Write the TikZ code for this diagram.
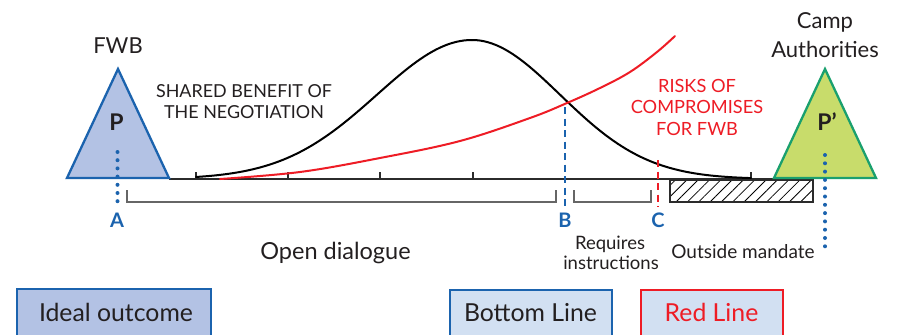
\documentclass[tikz,border=0pt]{standalone}
\usepackage{fontspec}
\setmainfont{Lato}
\usetikzlibrary{patterns.meta}
\definecolor{fwbblue}{HTML}{1B63AE}
\definecolor{fwbfill}{HTML}{B3C2E4}
\definecolor{campgreen}{HTML}{1AA06E}
\definecolor{campfill}{HTML}{C8DC6B}
\definecolor{riskred}{HTML}{EE1C25}
\definecolor{lightbox}{HTML}{D2E0F2}
\definecolor{axisgray}{HTML}{2B2B2B}
\definecolor{brackgray}{HTML}{666666}
\definecolor{txt}{HTML}{231F20}
\tikzset{
  lbl/.style={anchor=base, inner sep=0pt, text=txt},
  dotfill/.style={fill=fwbblue},
  dashline/.style={line width=2.4pt, dash pattern=on 7pt off 4.5pt},
  bracket/.style={brackgray, line width=1.3pt},
  legendbox/.style={line width=2.3pt},
  curve/.style={line width=2pt, line join=round, line cap=round}
}
\begin{document}
\begin{tikzpicture}[x=1pt,y=-1pt]
\clip (0,0) rectangle (906,335);
\fill[white] (0,0) rectangle (906,335);
% axis
\coordinate (axL) at (169,179);
\coordinate (axR) at (774,179);
\draw[axisgray, line width=2pt] (axL) -- (axR);
\foreach \t in {196,288,380,473,751} \draw[axisgray, line width=1.6pt] (\t,179) -- (\t,171.5);
% bell curve
\draw[curve, black] plot[domain=196:472, samples=70] (\x, {179-139*exp(-0.5*((\x-472)/95)^2)});
\draw[curve, black] plot[domain=472:751, samples=70] (\x, {179-139*exp(-0.5*((\x-472)/88)^2)});
% red risk curve
\draw[curve, riskred] plot[smooth, tension=0.6] coordinates {(220,179) (300,172) (380,158) (460,141) (530,118) (567,103) (600,88) (630,72) (657,52) (675,36)};
% hatched outside mandate
\draw[axisgray, line width=1.3pt, pattern={Lines[angle=45, distance=8pt, line width=0.8pt]}] (670,180) rectangle (813,202);
% brackets
\draw[bracket] (127,190) |- (556,202) -- (556,190);
\draw[bracket] (574,190) |- (651,202) -- (651,190);
% triangles
\coordinate (pA) at (118,69);
\coordinate (pB) at (825,69);
\draw[fwbblue, fill=fwbfill, line width=2.3pt] (67,178) -- (pA) -- (169,178) -- cycle;
\draw[campgreen, fill=campfill, line width=2.3pt] (774,178) -- (pB) -- (876,178) -- cycle;
% markers
\foreach \i in {0,...,6} \fill[dotfill] (117.5,{152+8.2*\i}) circle (2pt);
\foreach \i in {0,...,11} \fill[dotfill] (825,{155+8.3*\i}) circle (2pt);
\draw[dashline, fwbblue] (565,107) -- (565,207);
\draw[dashline, riskred] (658,160) -- (658,207);
% labels
\node[lbl, font=\fontsize{22}{26}\selectfont] (fwb) at (118,53) {FWB};
\node[lbl, font=\fontsize{22}{26}\selectfont] (camp) at (825,28) {Camp};
\node[lbl, font=\fontsize{22}{26}\selectfont] (auth) at (825,57) {Authorities};
\node[lbl, font=\fontsize{17.9}{20}\selectfont] (sb1) at (244,97) {SHARED BENEFIT OF};
\node[lbl, font=\fontsize{17.9}{20}\selectfont] (sb2) at (244,118) {THE NEGOTIATION};
\node[lbl, text=riskred, font=\fontsize{18.2}{20}\selectfont] (rk1) at (697,92) {RISKS OF};
\node[lbl, text=riskred, font=\fontsize{18.2}{20}\selectfont] (rk2) at (697,113) {COMPROMISES};
\node[lbl, text=riskred, font=\fontsize{18.2}{20}\selectfont] (rk3) at (697,135) {FOR FWB};
\node[lbl, font=\bfseries\fontsize{23}{26}\selectfont] (P) at (116.5,130) {P};
\node[lbl, font=\bfseries\fontsize{23}{26}\selectfont] (Pp) at (827,130) {P’};
\node[lbl, text=fwbblue, font=\bfseries\fontsize{20}{22}\selectfont] (A) at (117,227) {A};
\node[lbl, text=fwbblue, font=\bfseries\fontsize{20}{22}\selectfont] (B) at (565,227) {B};
\node[lbl, text=fwbblue, font=\bfseries\fontsize{20}{22}\selectfont] (C) at (658,227) {C};
\node[lbl, font=\fontsize{23.5}{26}\selectfont] (od) at (335.5,259) {Open dialogue};
\node[lbl, font=\fontsize{18.5}{20}\selectfont] (rq1) at (610,249) {Requires};
\node[lbl, font=\fontsize{18.5}{20}\selectfont] (rq2) at (611,269) {instructions};
\node[lbl, font=\fontsize{19}{20}\selectfont] (om) at (743,258) {Outside mandate};
% legend boxes
\draw[legendbox, fwbblue, fill=fwbfill] (17,289) rectangle (211,345);
\draw[legendbox, fwbblue, fill=lightbox] (450,290) rectangle (612,345);
\draw[legendbox, riskred, fill=lightbox] (641,290) rectangle (783,345);
\node[lbl, font=\fontsize{24.8}{28}\selectfont] (io) at (116,321) {Ideal outcome};
\node[lbl, font=\fontsize{24.8}{28}\selectfont] (bl) at (530.5,321) {Bottom Line};
\node[lbl, text=riskred, font=\fontsize{24.8}{28}\selectfont] (rl) at (711.5,321) {Red Line};
\end{tikzpicture}
\end{document}
